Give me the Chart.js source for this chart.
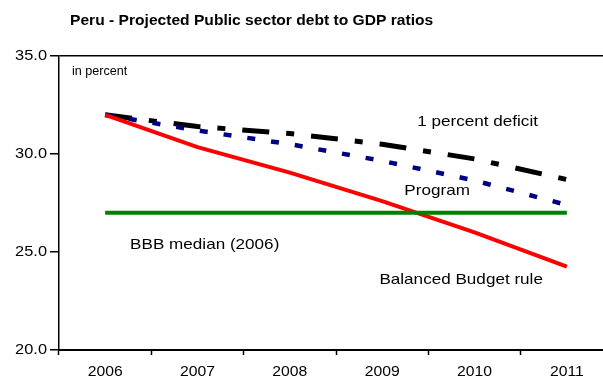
<!DOCTYPE html>
<html>
<head>
<meta charset="utf-8">
<script src="https://cdn.jsdelivr.net/npm/chart.js@4/dist/chart.umd.min.js"></script>
<style>
  html, body { margin: 0; padding: 0; background: #fff; overflow: hidden; }
  #wrap { width: 620px; height: 381px; }
</style>
</head>
<body>
<div id="wrap"><canvas id="c" width="620" height="381"></canvas></div>
<script>
// Years on the horizontal axis
const years = ['2006', '2007', '2008', '2009', '2010', '2011'];

// Debt-to-GDP projections, percent
const oneDeficit = [32.0, 31.4, 31.05, 30.5, 29.75, 28.7];
const program = [32.0, 31.2, 30.5, 29.65, 28.65, 27.4];
const balancedBudget = [32.0, 30.35, 29.05, 27.6, 26.0, 24.25];
const bbbMedian = [27.0, 27.0, 27.0, 27.0, 27.0, 27.0];

// Vertical axis ticks
const yTicks = [20, 25, 30, 35];

// Series captions: [text, category position, value, font size]
const seriesLabels = [
  ['in percent', -0.36, 34.2, 12],
  ['1 percent deficit', 3.38, 31.65, 15],
  ['Program', 3.24, 28.1, 15],
  ['BBB median (2006)', 0.27, 25.35, 15],
  ['Balanced Budget rule', 2.97, 23.6, 15]
];

const chartTitle = 'Peru - Projected Public sector debt to GDP ratios';
const FONT = '"Liberation Sans", Arial, sans-serif';

// Text in a slightly wide Arial-style face
function drawText(ctx, s, x, y, font, sx, align) {
  ctx.save();
  ctx.font = font;
  ctx.translate(x, y);
  ctx.scale(sx, 1);
  ctx.textAlign = align;
  ctx.textBaseline = 'middle';
  ctx.fillStyle = '#000';
  ctx.fillText(s, 0, 0);
  ctx.restore();
}

const textLayer = {
  id: 'textLayer',
  afterDraw(chart) {
    const { ctx, scales } = chart;
    const { x, y } = scales;
    drawText(ctx, chartTitle, 70, 21, 'bold 15px ' + FONT, 1.04, 'left');
    // value axis labels
    for (const v of yTicks) {
      drawText(ctx, v.toFixed(1), 47, y.getPixelForValue(v), '14px ' + FONT, 1.17, 'right');
    }
    // category labels
    years.forEach((yr, i) => {
      drawText(ctx, yr, x.getPixelForValue(i), 372, '15px ' + FONT, 1.05, 'center');
    });
    // series captions
    for (const [text, xi, v, size] of seriesLabels) {
      const sx = size < 14 ? 1.05 : 1.14;
      drawText(ctx, text, x.getPixelForValue(xi), y.getPixelForValue(v), size + 'px ' + FONT, sx, 'left');
    }
  }
};

new Chart(document.getElementById('c'), {
  type: 'line',
  data: {
    labels: years,
    datasets: [
      {
        label: 'BBB median (2006)',
        data: bbbMedian,
        borderColor: '#008000',
        borderWidth: 4,
        pointRadius: 0,
        tension: 0
      },
      {
        label: 'Balanced Budget rule',
        data: balancedBudget,
        borderColor: '#ff0000',
        borderWidth: 4,
        pointRadius: 0,
        tension: 0
      },
      {
        label: 'Program',
        data: program,
        borderColor: '#000080',
        borderWidth: 4.5,
        borderDash: [8, 16],
        pointRadius: 0,
        tension: 0
      },
      {
        label: '1 percent deficit',
        data: oneDeficit,
        borderColor: '#000000',
        borderWidth: 5,
        borderDash: [27, 17, 8, 17],
        pointRadius: 0,
        tension: 0
      }
    ]
  },
  options: {
    responsive: false,
    animation: false,
    layout: { padding: { top: 56, right: 7, left: 0, bottom: 0 } },
    plugins: {
      legend: { display: false },
      tooltip: { enabled: false },
      title: { display: false }
    },
    scales: {
      x: {
        offset: true,
        grid: {
          offset: true,
          drawOnChartArea: false,
          tickLength: 5,
          tickColor: '#000',
          tickWidth: 1.5
        },
        border: { color: '#000', width: 2 },
        ticks: { display: false },
        afterFit(s) { s.height = 31; }
      },
      y: {
        min: 20,
        max: 35,
        afterBuildTicks(s) { s.ticks = yTicks.map(v => ({ value: v })); },
        grid: {
          color: ctx => (ctx.tick && ctx.tick.value === 35 ? '#000' : 'rgba(0,0,0,0)'),
          lineWidth: 1.5,
          tickLength: 9,
          tickColor: '#000',
          tickWidth: 1.5
        },
        border: { color: '#000', width: 1.5 },
        ticks: { display: false },
        afterFit(s) { s.width = 59; }
      }
    }
  },
  plugins: [textLayer]
});
</script>
</body>
</html>
